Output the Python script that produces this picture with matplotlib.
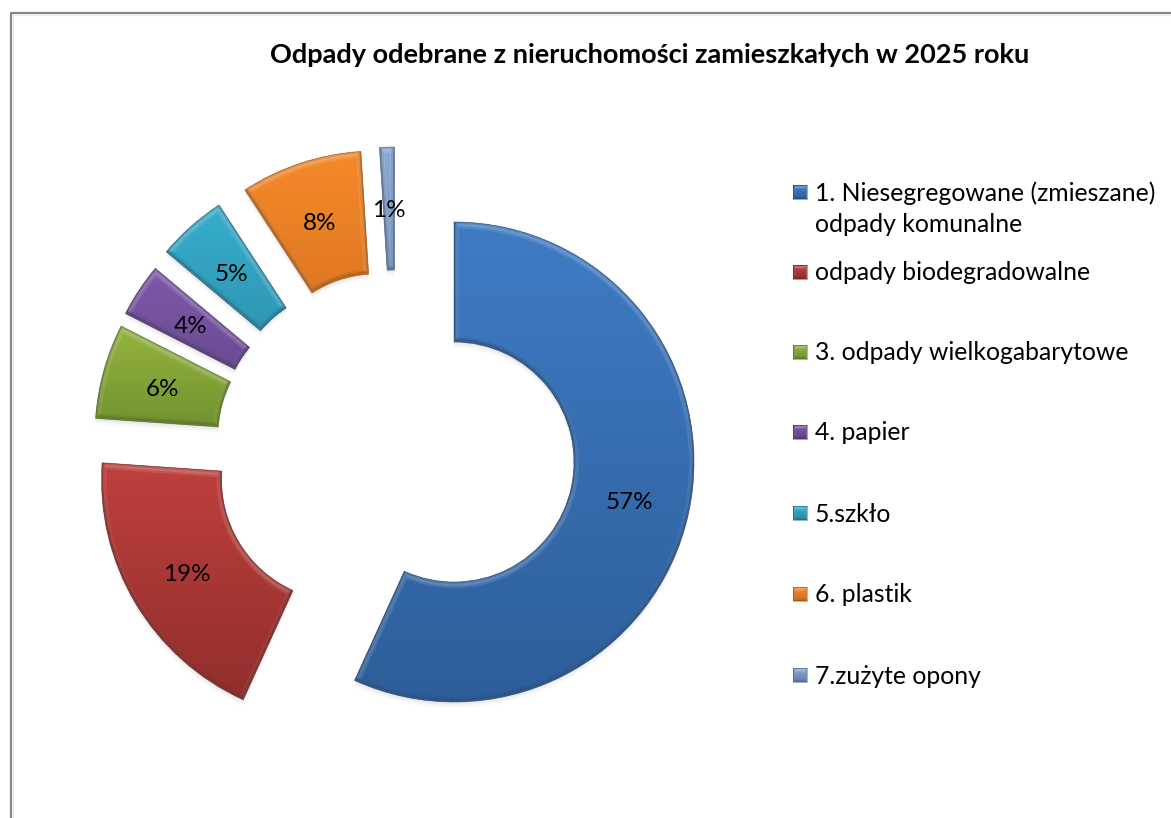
import matplotlib
matplotlib.use("Agg")
import matplotlib.pyplot as plt
import numpy as np
from matplotlib.colors import LinearSegmentedColormap
from matplotlib.patches import Wedge, Rectangle
from matplotlib.transforms import Affine2D

title = "Odpady odebrane z nieruchomości zamieszkałych w 2025 roku"
categories = ["1. Niesegregowane (zmieszane)\nodpady komunalne", "odpady biodegradowalne",
              "3. odpady wielkogabarytowe", "4. papier", "5.szkło", "6. plastik", "7.zużyte opony"]
values = [56.8, 19.3, 6.4, 3.6, 4.7, 8.2, 1.0]

# slice colours, top and bottom of the gradient
tops = ["#3f7cc5", "#bf403d", "#93b53d", "#8059ab", "#36aecd", "#f58a2a", "#8ba8d6"]
bottoms = ["#2e5e9a", "#902e2c", "#6f8f2f", "#5f4384", "#2a88a4", "#cd6b1e", "#6180aa"]
darks = ["#1f4270", "#6a1f1d", "#4f6620", "#42305e", "#1c6077", "#97500f", "#43597b"]

# exploded slices, all in figure pixels
center = (454, 462)
offsets = [(0, 0), (-110.5, 17.5), (-119, -27), (-114.7, -39.5), (-103.8, -56), (-78, -71), (-59.5, -75)]
outer = [240, 242, 240, 240, 240, 240, 240]
inner = [120, 122, 117, 117, 117, 117, 117]
legend_y = [192, 272, 352, 432, 513, 594, 675]

FONT = "Lato"

fig = plt.figure(figsize=(11.71, 8.18), dpi=100)
ax = fig.add_axes([0, 0, 1, 1])
ax.set_xlim(0, 1171)
ax.set_ylim(818, 0)
ax.axis("off")

# chart border, only left and top are visible
ax.plot([10.5, 10.5, 1171], [818, 13, 13], color="#868686", lw=1.6, zorder=1)
ax.plot([12.5, 12.5, 1171], [818, 15, 15], color="#ececec", lw=1, zorder=1)

grad = np.linspace(0, 1, 256).reshape(-1, 1)
angles = np.cumsum([0] + values) / sum(values) * 360


def bevel_fill(patch_func, extent, top, bottom, dark, zorder, lw=7.0):
    # gradient clipped to the shape, then light and dark strokes for the bevel
    cmap = LinearSegmentedColormap.from_list("s", [top, bottom])
    base = patch_func(fc="none", ec="none", zorder=zorder)
    ax.add_patch(base)
    im = ax.imshow(grad, cmap=cmap, extent=extent, aspect="auto", zorder=zorder)
    im.set_clip_path(base)
    for w, al in [(1.0, 0.10), (0.55, 0.14)]:
        light = patch_func(fc="none", ec="white", lw=lw * w, alpha=al, zorder=zorder + 0.1)
        light.set_transform(Affine2D().translate(0, 1.5) + ax.transData)
        ax.add_patch(light)
        light.set_clip_path(base)
    for w, al in [(0.7, 0.2), (0.35, 0.5)]:
        shade = patch_func(fc="none", ec=dark, lw=lw * w, alpha=al, zorder=zorder + 0.2)
        shade.set_transform(Affine2D().translate(0, -1.5) + ax.transData)
        ax.add_patch(shade)
        shade.set_clip_path(base)
    ax.add_patch(patch_func(fc="none", ec=dark, lw=0.5, alpha=0.65, zorder=zorder + 0.3))


for i, val in enumerate(values):
    cx = center[0] + offsets[i][0]
    cy = center[1] + offsets[i][1]
    a0, a1 = angles[i], angles[i + 1]

    # soft shadow
    for k, al in zip([6, 4, 2], [0.04, 0.06, 0.08]):
        ax.add_patch(Wedge((cx, cy + k), outer[i], a0 - 90, a1 - 90, width=outer[i] - inner[i],
                           fc="#808080", ec="none", alpha=al, zorder=2))

    def make(cx=cx, cy=cy, i=i, a0=a0, a1=a1, **kw):
        return Wedge((cx, cy), outer[i], a0 - 90, a1 - 90, width=outer[i] - inner[i], **kw)

    # gradient only spans the slice's own height
    tr = make()
    ys = tr.get_patch_transform().transform(tr.get_path().vertices)[:, 1]
    ext = [cx - outer[i], cx + outer[i], ys.max(), ys.min()]
    bevel_fill(make, ext, tops[i], bottoms[i], darks[i], 3 + i * 0.5)

    mid = np.radians((a0 + a1) / 2)
    r = (outer[i] + inner[i]) / 2
    ax.text(cx + r * np.sin(mid), cy - r * np.cos(mid) + 2, f"{val:.0f}%", ha="center", va="center",
            fontsize=17.5, family=FONT, color="black", zorder=10)

ax.text(649.5, 55, title, ha="center", va="center", fontsize=19.5, fontweight="bold",
        family=FONT, color="black", zorder=10)

# legend
for i, cat in enumerate(categories):
    y = legend_y[i]

    def box(y=y, **kw):
        return Rectangle((793, y - 7), 14, 14, **kw)

    bevel_fill(box, [793, 807, y + 7, y - 7], tops[i], bottoms[i], darks[i], 8, lw=2.5)
    lines = cat.split("\n")
    for j, line in enumerate(lines):
        ax.text(815, y + 1 + j * 32, line, ha="left", va="center", fontsize=17.8,
                family=FONT, color="black", zorder=10)

ax.set_xlim(0, 1171)
ax.set_ylim(818, 0)
fig.savefig("out.png", dpi=100)
